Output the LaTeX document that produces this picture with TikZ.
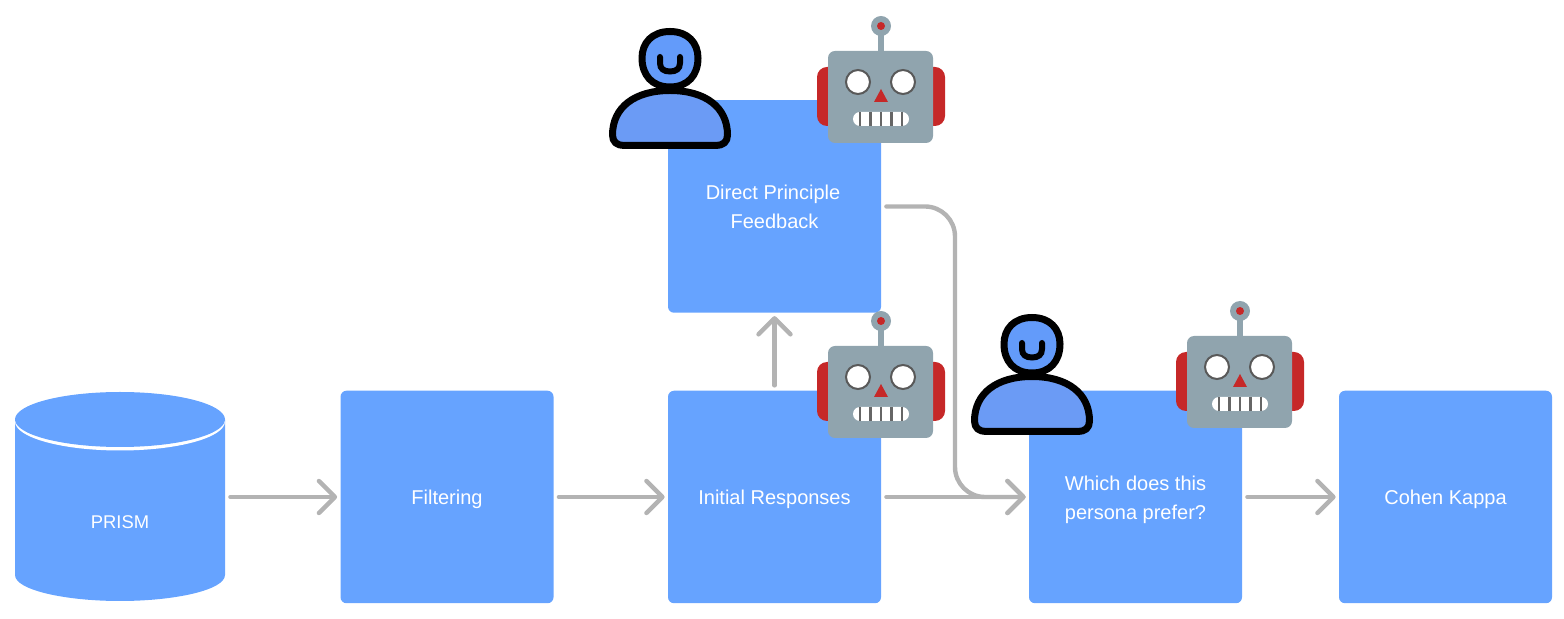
\documentclass[tikz,border=0pt]{standalone}
\usepackage{fontspec}
\setmainfont{Liberation Sans}
\usetikzlibrary{arrows.meta}
\definecolor{boxblue}{HTML}{66A3FF}
\definecolor{arrowgray}{HTML}{B3B3B3}
\definecolor{personhead}{HTML}{639BFA}
\definecolor{personbody}{HTML}{6B9BF5}
\definecolor{robotgray}{HTML}{90A4AE}
\definecolor{robotred}{HTML}{C62828}
\tikzset{
  x=0.5pt,y=-0.5pt,
  boxtext/.style={text=white,align=center,inner sep=0pt,yshift=-1.2pt,
    font=\fontsize{10}{14.5}\selectfont},
  stepbox/.style={fill=boxblue,rounded corners=3pt,minimum width=106.5pt,minimum height=106.25pt,inner sep=0pt},
  flow/.style={draw=arrowgray,line width=2.2pt,line cap=round,line join=round,
    -{Straight Barb[length=8pt,width=16pt,line width=2.2pt,round]},shorten <=2.5pt,shorten >=1.5pt},
  personline/.style={draw=black,line width=3.5pt,line join=round},
  pics/person/.style={code={
    \draw[personline,fill=personhead] (670,31.5) .. controls (688,31.5) and (698,43) .. (698,58)
      .. controls (698,75) and (688,87) .. (670,87) .. controls (652,87) and (642,75) .. (642,58)
      .. controls (642,43) and (652,31.5) .. (670,31.5) -- cycle;
    \draw[draw=black,line width=3pt,line cap=round] (660,57) -- (660,63) .. controls (660,69) and (664,71.5) .. (670,71.5)
      .. controls (676,71.5) and (680,69) .. (680,63) -- (680,57);
    \draw[personline,fill=personbody] (670,90.5) .. controls (705,90.5) and (727.5,107) .. (727.5,135)
      .. controls (727.5,142) and (723,145.5) .. (716,145.5) -- (624,145.5)
      .. controls (617,145.5) and (612.5,142) .. (612.5,135)
      .. controls (612.5,107) and (635,90.5) .. (670,90.5) -- cycle;
  }},
  pics/robot/.style={code={
    \fill[robotred,rounded corners=5pt] (817,67) rectangle (945,126);
    \fill[robotgray] (878,30) rectangle (884,55);
    \fill[robotgray] (881,26) circle[radius=10];
    \fill[robotred] (881,26) circle[radius=4];
    \fill[robotgray,rounded corners=3.5pt] (828,51) rectangle (933,143);
    \draw[draw=black!65,fill=white,line width=1pt] (858,82) circle[radius=12];
    \draw[draw=black!65,fill=white,line width=1pt] (903,82) circle[radius=12];
    \fill[robotred,line join=round] (881,89) -- (888,102) -- (874,102) -- cycle;
    \fill[white,rounded corners=3.5pt] (853,112) rectangle (909,126);
    \foreach \tx in {860,870.5,881,891.5,902}{\draw[black!60,line width=1.1pt] (\tx,112) -- (\tx,126);}
  }}
}
\begin{document}
\begin{tikzpicture}
\useasboundingbox (0,0) rectangle (1564,619);
% database
\fill[boxblue] (15,420) -- (15,575) .. controls (15,590) and (65,601) .. (120,601)
  .. controls (175,601) and (225,590) .. (225,575) -- (225,420) -- cycle;
\fill[white] (120,421.5) ellipse[x radius=105,y radius=29];
\fill[boxblue] (120,419.5) ellipse[x radius=105,y radius=27.5];
\node[minimum width=105pt,minimum height=105pt,inner sep=0pt] (prism) at (120,497) {};
\node[boxtext,font=\fontsize{9.2}{14.5}\selectfont] (prismlabel) at (120,519.5) {PRISM};
% boxes
\node[stepbox,label={[boxtext]center:Filtering}] (filt) at (447,497) {};
\node[stepbox,label={[boxtext]center:Initial Responses}] (init) at (774.5,497) {};
\node[stepbox,label={[boxtext,yshift=1.2pt]center:Direct Principle\hspace*{1.5pt}\\Feedback}] (dpf) at (774.5,206.5) {};
\node[stepbox,label={[boxtext]center:Which does this\\persona prefer?}] (pref) at (1135.5,497) {};
\node[stepbox,label={[boxtext]center:Cohen Kappa}] (kappa) at (1445.5,497) {};
% connectors
\draw[flow] (prism) -- (filt);
\draw[flow] (filt) -- (init);
\draw[flow] (init) -- (dpf);
\draw[flow] (init) -- (pref);
\draw[flow] (pref) -- (kappa);
\draw[flow,rounded corners=15pt] (dpf.east) -- (955,206.5) -- (955,497) -- (pref.west);
% figures
\pic at (0,0) {person};
\pic at (362,286) {person};
\pic at (0,0) {robot};
\pic at (0,295) {robot};
\pic at (359,285) {robot};
\end{tikzpicture}
\end{document}
